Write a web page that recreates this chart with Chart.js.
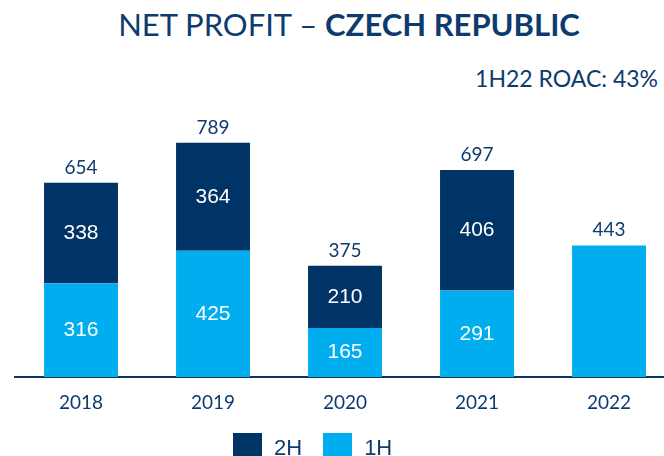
<!DOCTYPE html>
<html>
<head>
<meta charset="utf-8">
<script src="https://cdn.jsdelivr.net/npm/chart.js@4"></script>
<style>
  body { margin: 0; width: 664px; height: 456px; overflow: hidden; position: relative; background: #fff; }
  #title { position: absolute; top: 9px; left: 0; width: 698px; text-align: center;
           font: 31px/31px Lato, sans-serif; color: #0e3b6e; white-space: nowrap; }
  #title b { font-weight: 700; }
  #sub { position: absolute; top: 67px; right: 6px; font: 23px/22px Lato, sans-serif; color: #0e3b6e; white-space: nowrap; }
  #chartBox { position: absolute; left: 0; top: 0; width: 680px; height: 456px; }
  #legend { position: absolute; left: 233px; top: 433px; display: flex; }
  .item { display: flex; align-items: center; margin-right: 21px; }
  .box { width: 29px; height: 29px; margin-right: 12px; }
  .item span { font: 22px/29px "Liberation Sans", Arial, sans-serif; color: #0e3b6e; }
</style>
</head>
<body>
<div id="title">NET PROFIT – <b>CZECH REPUBLIC</b></div>
<div id="sub">1H22 ROAC: 43%</div>
<div id="chartBox"><canvas id="chart" width="680" height="456"></canvas></div>
<div id="legend"></div>

<script>
const years = ['2018', '2019', '2020', '2021', '2022']
const firstHalf = [316, 425, 165, 291, 443]
const secondHalf = [338, 364, 210, 406, null]
const totals = [654, 789, 375, 697, 443]

const navy = '#003466'
const lightBlue = '#00aeef'
const textColor = '#0e3b6e'

// value labels: inside each segment + total above the bar
const barLabels = {
  id: 'barLabels',
  afterDatasetsDraw(chart) {
    const ctx = chart.ctx
    const m0 = chart.getDatasetMeta(0)
    const m1 = chart.getDatasetMeta(1)
    ctx.save()
    ctx.textAlign = 'center'
    years.forEach((y, i) => {
      if (secondHalf[i] != null) {
        ctx.font = '21px "Liberation Sans", Arial'
        ctx.fillStyle = '#ffffff'
        ctx.textBaseline = 'middle'
        ;[[m0, firstHalf[i]], [m1, secondHalf[i]]].forEach(([m, v]) => {
          const el = m.data[i]
          ctx.fillText(v, el.x, (el.y + el.base) / 2)
        })
      }
      const topEl = secondHalf[i] != null ? m1.data[i] : m0.data[i]
      ctx.font = '19px Lato'
      ctx.fillStyle = textColor
      ctx.textBaseline = 'alphabetic'
      ctx.fillText(totals[i], topEl.x, topEl.y - 9)
    })
    ctx.restore()
  }
}

const chart = new Chart(document.getElementById('chart').getContext('2d'), {
  type: 'bar',
  data: {
    labels: years,
    datasets: [
      { label: '1H', data: firstHalf, backgroundColor: lightBlue },
      { label: '2H', data: secondHalf, backgroundColor: navy }
    ]
  },
  options: {
    responsive: false,
    animation: false,
    layout: { padding: { top: 80, left: 15, right: 5, bottom: 0 } },
    datasets: { bar: { categoryPercentage: 1, barPercentage: 0.56 } },
    plugins: {
      legend: { display: false },
      title: { display: false },
      tooltip: { enabled: false }
    },
    scales: {
      x: {
        stacked: true,
        grid: { display: false, drawTicks: false },
        border: { display: true, color: '#0b3565', width: 2 },
        ticks: { color: textColor, padding: 14, font: { family: 'Lato', size: 19 } },
        afterFit: scale => { scale.height = 79 }
      },
      y: {
        stacked: true,
        display: false,
        min: 0,
        max: 1000
      }
    }
  },
  plugins: [barLabels]
})

// legend, 2H first
const legend = document.getElementById('legend')
chart.data.datasets.slice().reverse().forEach(ds => {
  const item = document.createElement('div')
  item.className = 'item'
  item.innerHTML = `<div class="box" style="background:${ds.backgroundColor}"></div><span>${ds.label}</span>`
  legend.appendChild(item)
})
</script>
</body>
</html>
